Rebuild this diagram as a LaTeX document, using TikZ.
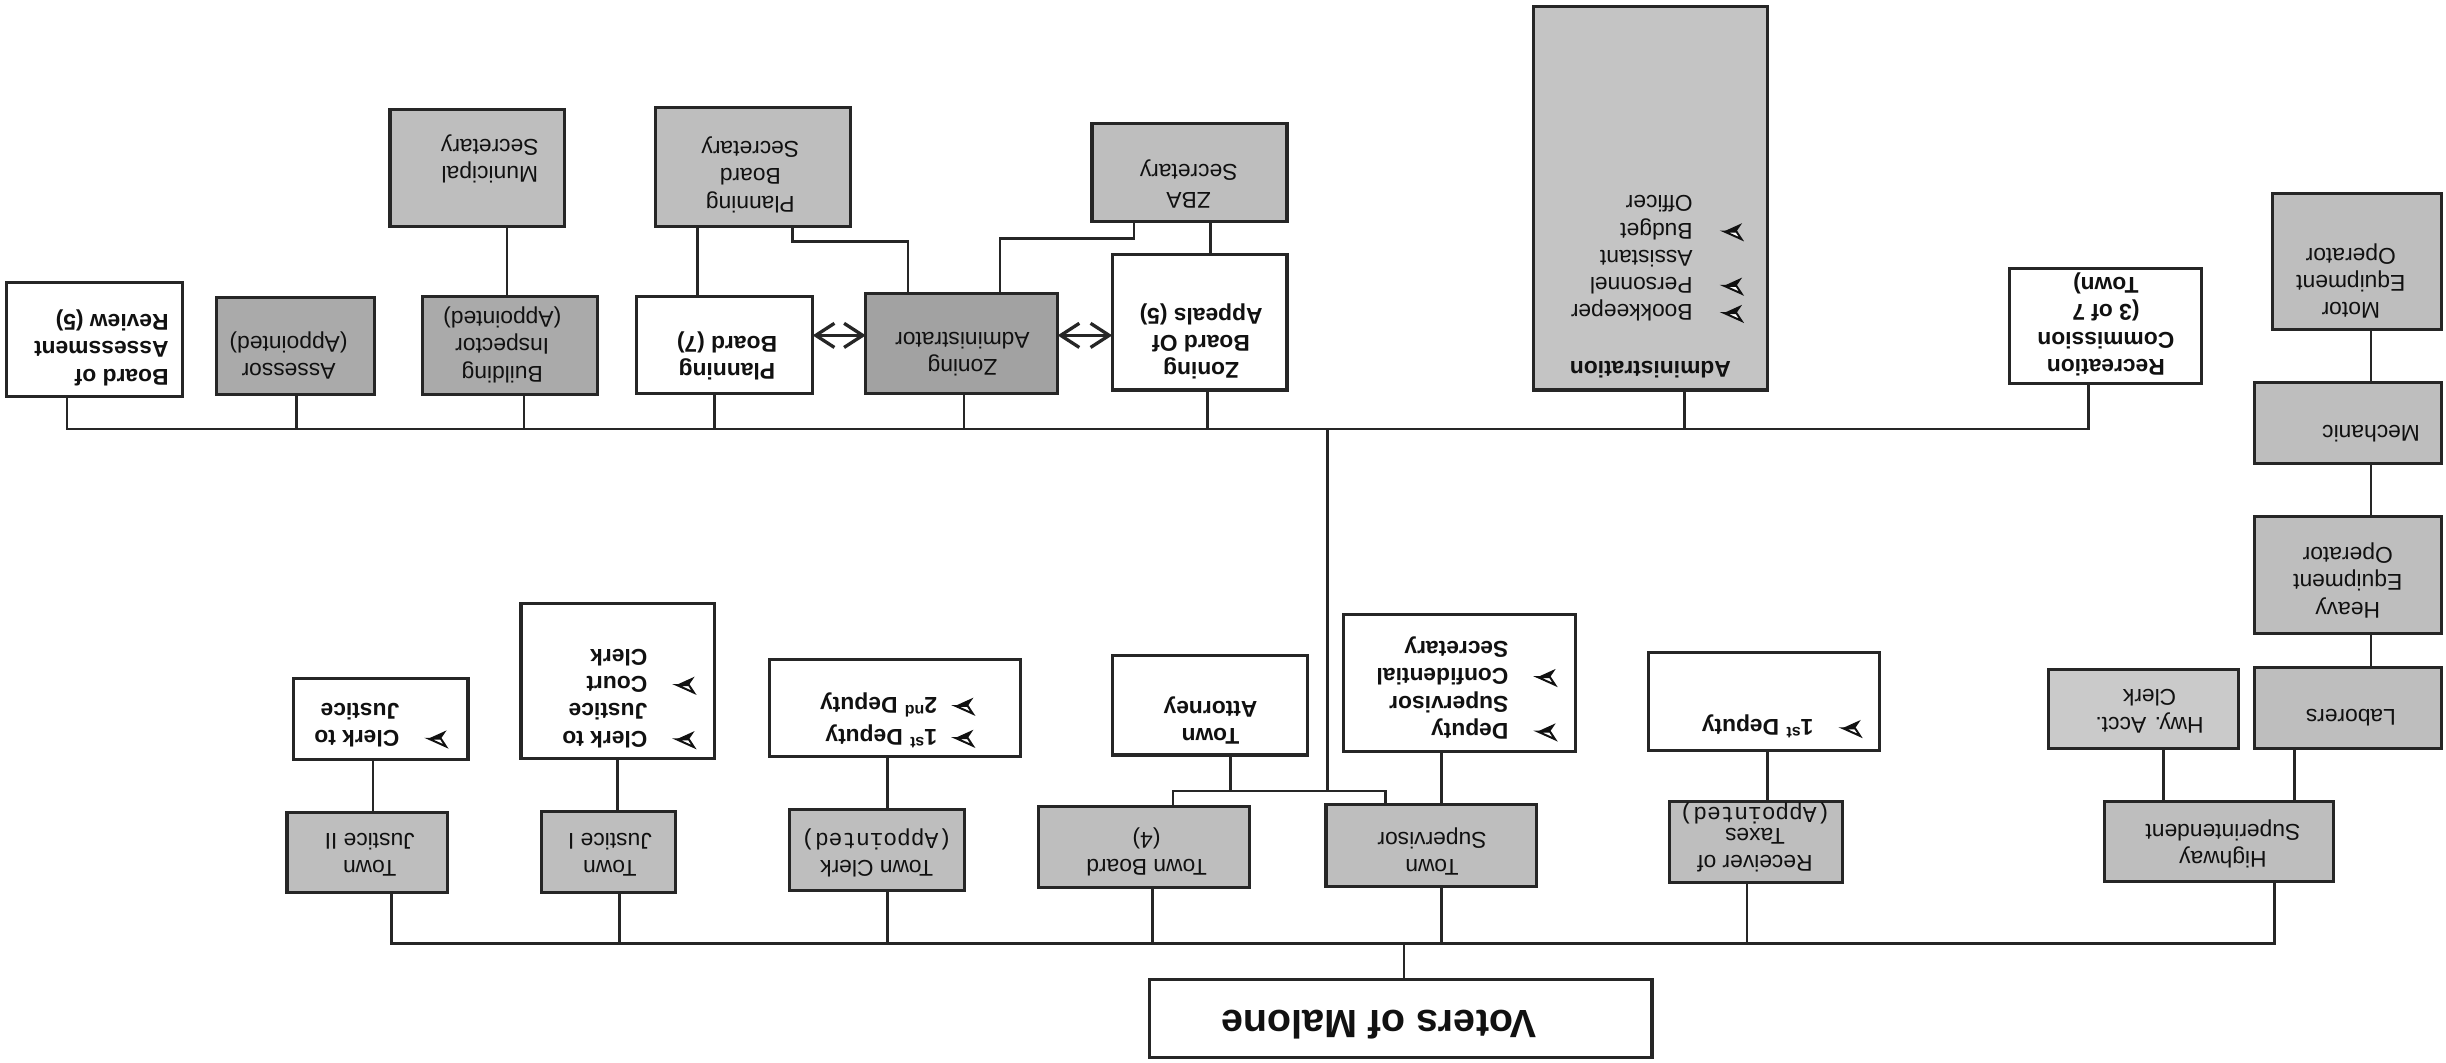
\documentclass[tikz,border=0pt]{standalone}
\usepackage{fontspec}
\setmainfont{Liberation Sans}
\newfontfamily\monof{Liberation Mono}
\usetikzlibrary{arrows.meta}
\definecolor{linec}{HTML}{262626}
\definecolor{textc}{HTML}{111111}
\definecolor{gA}{HTML}{BEBEBE}
\definecolor{gB}{HTML}{AAAAAA}
\definecolor{gC}{HTML}{A2A2A2}
\definecolor{gD}{HTML}{CACACA}
\definecolor{gE}{HTML}{C4C4C4}
\newcommand\regf{\fontsize{10.4}{12.4}\selectfont}
\newcommand\bldf{\fontsize{10.4}{12.4}\selectfont\bfseries}
\newcommand\bul{\tikz[baseline=0pt,x=1pt,y=1pt,line width=0.9pt,line join=miter]{%
 \fill[textc] (0,0) -- (8.4,3.8) -- (2.6,3.8) -- cycle;
 \filldraw[fill=white,draw=textc] (0.3,7.3) -- (8.1,3.8) -- (2.6,3.8) -- cycle;}}
\newcommand\bx[6]{%
 \pgfmathsetmacro\bxcx{(#3+#5)/2}\pgfmathsetmacro\bxcy{(#4+#6)/2}%
 \pgfmathsetmacro\bxw{(#5-#3)*0.025}\pgfmathsetmacro\bxh{(#6-#4)*0.025}%
 \node[#1, minimum width=\bxw cm, minimum height=\bxh cm] (#2) at (\bxcx,\bxcy) {};}
\tikzset{
 box/.style={draw=linec, line width=1.4pt, inner sep=0pt, outer sep=0pt, rectangle},
 wbox/.style={box, fill=white},
 gbox/.style={box, fill=gA},
 dbox/.style={box, fill=gB},
 zbox/.style={box, fill=gC},
 lbox/.style={box, fill=gD},
 abox/.style={box, fill=gE},
 txt/.style={rotate=180, inner sep=0pt, align=center, font=\regf, text=textc},
 btxt/.style={txt, font=\bldf},
 ln/.style={draw=linec, line width=1.2pt},
 arr/.style={draw=linec, line width=1.5pt, {Straight Barb[length=8.5pt,width=11pt]}-{Straight Barb[length=8.5pt,width=11pt]}},
}
\begin{document}
\begin{tikzpicture}[x=0.025cm, y=-0.025cm]
\fill[white] (0,0) rectangle (1568,681);
\useasboundingbox (0,0) rectangle (1568,681);
\coordinate (tb) at (0,275);
\coordinate (bb) at (0,605);
\coordinate (jn) at (0,507);
% ---------- boxes ----------
\bx{wbox}{bar}{4}{181}{117}{254}
\bx{dbox}{ass}{139}{191}{240}{253}
\bx{dbox}{bi}{271}{190}{383}{253}
\bx{gbox}{ms}{250}{70}{362}{145}
\bx{gbox}{pbs}{420}{69}{545}{145}
\bx{wbox}{pb}{408}{190}{521}{252}
\bx{zbox}{za}{555}{188}{678}{252}
\bx{wbox}{zboa}{713}{163}{825}{250}
\bx{gbox}{zbs}{700}{79}{825}{142}
\bx{abox}{adm}{983}{4}{1133}{250}
\bx{wbox}{rec}{1288}{172}{1411}{246}
\bx{gbox}{mot}{1457}{124}{1565}{211}
\bx{gbox}{mech}{1445}{245}{1565}{297}
\bx{gbox}{heavy}{1445}{331}{1565}{406}
\bx{gbox}{lab}{1445}{428}{1565}{480}
\bx{lbox}{hwc}{1313}{429}{1435}{480}
\bx{gbox}{hw}{1349}{514}{1496}{565}
\bx{wbox}{rdep}{1057}{418}{1205}{481}
\bx{gbox}{rt}{1070}{514}{1181}{566}
\bx{wbox}{vot}{737}{628}{1059}{678}
\bx{gbox}{sup}{850}{516}{985}{568}
\bx{gbox}{tbd}{666}{517}{801}{569}
\bx{wbox}{att}{713}{420}{838}{484}
\bx{wbox}{dsup}{861}{394}{1010}{482}
\bx{wbox}{dep}{493}{423}{654}{485}
\bx{gbox}{tc}{506}{519}{618}{571}
\bx{wbox}{court}{334}{387}{458}{486}
\bx{gbox}{tj1}{347}{520}{433}{572}
\bx{wbox}{ctj}{188}{435}{300}{487}
\bx{gbox}{tj2}{184}{521}{287}{572}
% ---------- texts ----------
\node[btxt, align=left] (bar-t) at (65,223) {Board of\\Assessment\\Review (5)};
\node[txt] (ass-t) at (185,228) {Assessor\\(Appointed)};
\node[txt] (bi-t) at (322,221) {Building\\Inspector\\(Appointed)};
\node[txt] (ms-t) at (314,102) {Municipal\\Secretary};
\node[txt] (pbs-t) at (481,112) {Planning\\Board\\Secretary};
\node[btxt] (pb-t) at (466,228) {Planning\\Board (7)};
\node[txt] (za-t) at (617,227) {Zoning\\Administrator};
\node[btxt] (zboa-t) at (770,219) {Zoning\\Board Of\\Appeals (5)};
\node[txt] (zbs-t) at (762,118) {ZBA\\Secretary};
\node[btxt] (adm-h) at (1058,237) {Administration};
\node[txt] (adm-t) at (1062,164) {\begin{tabular}{@{}l@{\hspace{14pt}}l@{}}\bul & Bookkeeper\\ \bul & Personnel\\ & Assistant\\ \bul & Budget\\ & Officer\end{tabular}};
\node[btxt] (rec-t) at (1350,208) {Recreation\\Commission\\(3 of 7\\Town)};
\node[txt] (mot-t) at (1507,180) {Motor\\Equipment\\Operator};
\node[txt] (mech-t) at (1520,278) {Mechanic};
\node[txt] (heavy-t) at (1505,372) {Heavy\\Equipment\\Operator};
\node[txt] (lab-t) at (1507,460) {Laborers};
\node[txt] (hwc-t) at (1378,456) {Hwy. Acct.\\Clerk};
\node[txt] (hw-t) at (1425,541) {Highway\\Superintendent};
\node[btxt] (rdep-t) at (1142,465) {\begin{tabular}{@{}l@{\hspace{13pt}}l@{}}\bul & 1\textsuperscript{st} Deputy\end{tabular}};
\node[txt] (rt-t) at (1125,537) {Receiver of\\Taxes\\[-3pt]{\monof (Appointed)}};
\node[btxt, font=\fontsize{18}{20}\selectfont\bfseries] (vot-t) at (884,657) {Voters of Malone};
\node[txt] (sup-t) at (918,546) {Town\\Supervisor};
\node[txt] (tbd-t) at (735,546) {Town Board\\(4)};
\node[btxt] (att-t) at (776,462) {Town\\Attorney};
\node[btxt] (dsup-t) at (940,441) {\begin{tabular}{@{}l@{\hspace{13pt}}l@{}}\bul & Deputy\\ & Supervisor\\ \bul & Confidential\\ & Secretary\end{tabular}};
\node[btxt] (dep-t) at (575,461) {\begin{tabular}{@{}l@{\hspace{8pt}}l@{}}\bul & 1\textsuperscript{st} Deputy\\[2pt] \bul & 2\textsuperscript{nd} Deputy\end{tabular}};
\node[txt] (tc-t) at (562,547) {Town Clerk\\{\monof (Appointed)}};
\node[btxt] (court-t) at (403,446) {\begin{tabular}{@{}l@{\hspace{13pt}}l@{}}\bul & Clerk to\\ & Justice\\ \bul & Court\\ & Clerk\end{tabular}};
\node[txt] (tj1-t) at (391,548) {Town\\Justice I};
\node[btxt] (ctj-t) at (244,463) {\begin{tabular}{@{}l@{\hspace{13pt}}l@{}}\bul & Clerk to\\ & Justice\end{tabular}};
\node[txt] (tj2-t) at (237,548) {Town\\Justice II};
% ---------- connectors: upper bus ----------
\draw[ln] (bar.south -| 43,0) -- (43,0 |- tb) -- (1339,0 |- tb) -- (rec.south -| 1339,0);
\draw[ln] (ass.south -| 190,0) -- (190,0 |- tb);
\draw[ln] (bi.south -| 336,0) -- (336,0 |- tb);
\draw[ln] (pb.south -| 458,0) -- (458,0 |- tb);
\draw[ln] (za.south -| 618,0) -- (618,0 |- tb);
\draw[ln] (zboa.south -| 774,0) -- (774,0 |- tb);
\draw[ln] (adm.south -| 1080,0) -- (1080,0 |- tb);
\draw[ln] (851,0 |- tb) -- (851,0 |- jn);
\draw[ln] (bi.north -| 325,0) -- (ms.south -| 325,0);
\draw[ln] (pb.north -| 447,0) -- (pbs.south -| 447,0);
\draw[ln] (pbs.south -| 508,0) -- (508,155) -| (za.north -| 582,0);
\draw[ln] (zbs.south -| 727,0) -- (727,153) -| (za.north -| 641,0);
\draw[ln] (zboa.north -| 776,0) -- (zbs.south -| 776,0);
\draw[arr] (pb.east |- 0,215) -- (za.west |- 0,215);
\draw[arr] (za.east |- 0,215) -- (zboa.west |- 0,215);
% ---------- highway column ----------
\draw[ln] (mot.south -| 1520,0) -- (mech.north -| 1520,0);
\draw[ln] (mech.south -| 1520,0) -- (heavy.north -| 1520,0);
\draw[ln] (heavy.south -| 1520,0) -- (lab.north -| 1520,0);
\draw[ln] (lab.south -| 1471,0) -- (hw.north -| 1471,0);
\draw[ln] (hwc.south -| 1387,0) -- (hw.north -| 1387,0);
% ---------- middle ----------
\draw[ln] (tbd.north -| 752,0) -- (752,0 |- jn) -- (888,0 |- jn) -- (sup.north -| 888,0);
\draw[ln] (att.south -| 789,0) -- (789,0 |- jn);
\draw[ln] (sup.north -| 924,0) -- (dsup.south -| 924,0);
% ---------- lower bus ----------
\draw[ln] (tj2.south -| 251,0) -- (251,0 |- bb) -- (1458,0 |- bb) -- (hw.south -| 1458,0);
\draw[ln] (tj1.south -| 397,0) -- (397,0 |- bb);
\draw[ln] (tc.south -| 569,0) -- (569,0 |- bb);
\draw[ln] (tbd.south -| 739,0) -- (739,0 |- bb);
\draw[ln] (sup.south -| 924,0) -- (924,0 |- bb);
\draw[ln] (rt.south -| 1120,0) -- (1120,0 |- bb);
\draw[ln] (vot.north -| 900,0) -- (900,0 |- bb);
\draw[ln] (tj2.north -| 239,0) -- (ctj.south -| 239,0);
\draw[ln] (tj1.north -| 396,0) -- (court.south -| 396,0);
\draw[ln] (tc.north -| 569,0) -- (dep.south -| 569,0);
\draw[ln] (rt.north -| 1133,0) -- (rdep.south -| 1133,0);
\end{tikzpicture}
\end{document}
